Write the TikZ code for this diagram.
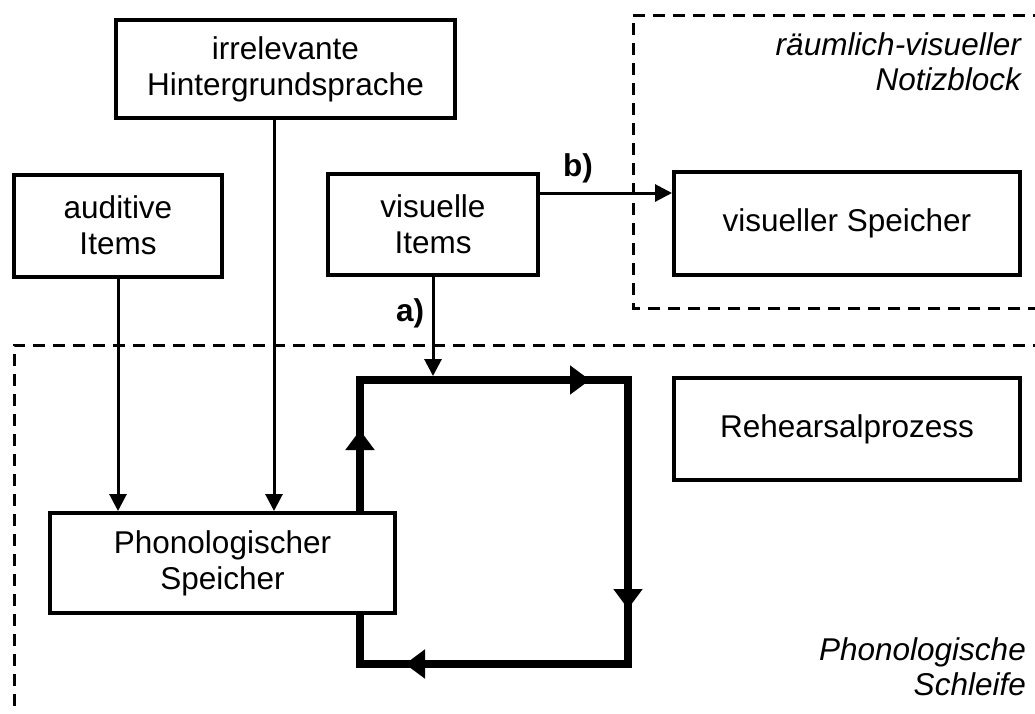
\documentclass[tikz,border=0pt]{standalone}
\usepackage{fontspec}
\setmainfont{Liberation Sans}
\usetikzlibrary{arrows.meta,decorations.markings}
\begin{document}
\begin{tikzpicture}[x=1pt,y=-1pt,
  box/.style={draw,line width=4pt,align=center,inner sep=0pt,fill=white,
    font=\fontsize{31.5pt}{36pt}\selectfont},
  conn/.style={line width=3pt,-{Triangle[length=17pt,width=17pt]}},
  zone/.style={line width=3pt,dash pattern=on 12pt off 8pt},
  zonelabel/.style={font=\fontsize{31.5pt}{35pt}\selectfont\itshape,align=right,inner sep=0pt},
  arrlabel/.style={font=\fontsize{31.5pt}{36pt}\selectfont\bfseries,inner sep=0pt},
  loopline/.style={line width=8pt,
    postaction={decorate,decoration={markings,
      mark=at position 81pt with {\arrow{Triangle[length=20pt,width=28pt]}},
      mark=at position 361pt with {\arrow{Triangle[length=20pt,width=28pt]}},
      mark=at position 628pt with {\arrow{Triangle[length=20pt,width=28pt]}},
      mark=at position 906pt with {\arrow{Triangle[length=20pt,width=28pt]}}}}}
]
\useasboundingbox (0,0) rectangle (1035,713);

% zones
\draw[zone] (1045,15) -- (633,15) -- (633,308) -- (1045,308);
\draw[zone] (1045,345) -- (14,345) -- (14,725);
\node[zonelabel,anchor=base east] (nb) at (1021,90) {räumlich-visueller\\Notizblock};
\node[zonelabel,anchor=base east] (ps) at (1026,695) {Phonologische\\Schleife};

% boxes
\node[box,minimum width=339pt,minimum height=98pt] (irr) at (285.5,69) {irrelevante\\Hintergrundsprache};
\node[box,minimum width=208pt,minimum height=102pt] (aud) at (118,225.5) {auditive\\Items};
\node[box,minimum width=210pt,minimum height=101pt] (vis) at (433,224.5) {visuelle\\Items};
\node[box,minimum width=346pt,minimum height=103pt] (vsp) at (847,223.5) {visueller Speicher};
\node[box,minimum width=346pt,minimum height=102pt] (reh) at (847,429) {Rehearsalprozess};
\node[box,minimum width=345pt,minimum height=100pt] (pho) at (222.5,563) {Phonologischer\\Speicher};

% helper coordinates
\coordinate (irrx) at (274,0);
\coordinate (by) at (0,193);
\coordinate (loopTL) at (360,380);
\coordinate (loopTR) at (628,380);
\coordinate (loopBR) at (628,664);
\coordinate (loopBL) at (360,664);

% connectors
\draw[conn] (aud.south) -- (aud.south |- pho.north);
\draw[conn] (irrx |- irr.south) -- (irrx |- pho.north);
\draw[conn,shorten >=4pt] (vis.south) -- (vis.south |- loopTL);
\draw[conn] (vis.east |- by) -- (vsp.west |- by);
\node[arrlabel] (la) at (410,313) {a)};
\node[arrlabel] (lb) at (578,168) {b)};

% rehearsal loop
\draw[loopline] (pho.north -| loopTL) -- (loopTL) -- (loopTR) -- (loopBR) -- (loopBL) -- (pho.south -| loopBL);
\end{tikzpicture}
\end{document}
